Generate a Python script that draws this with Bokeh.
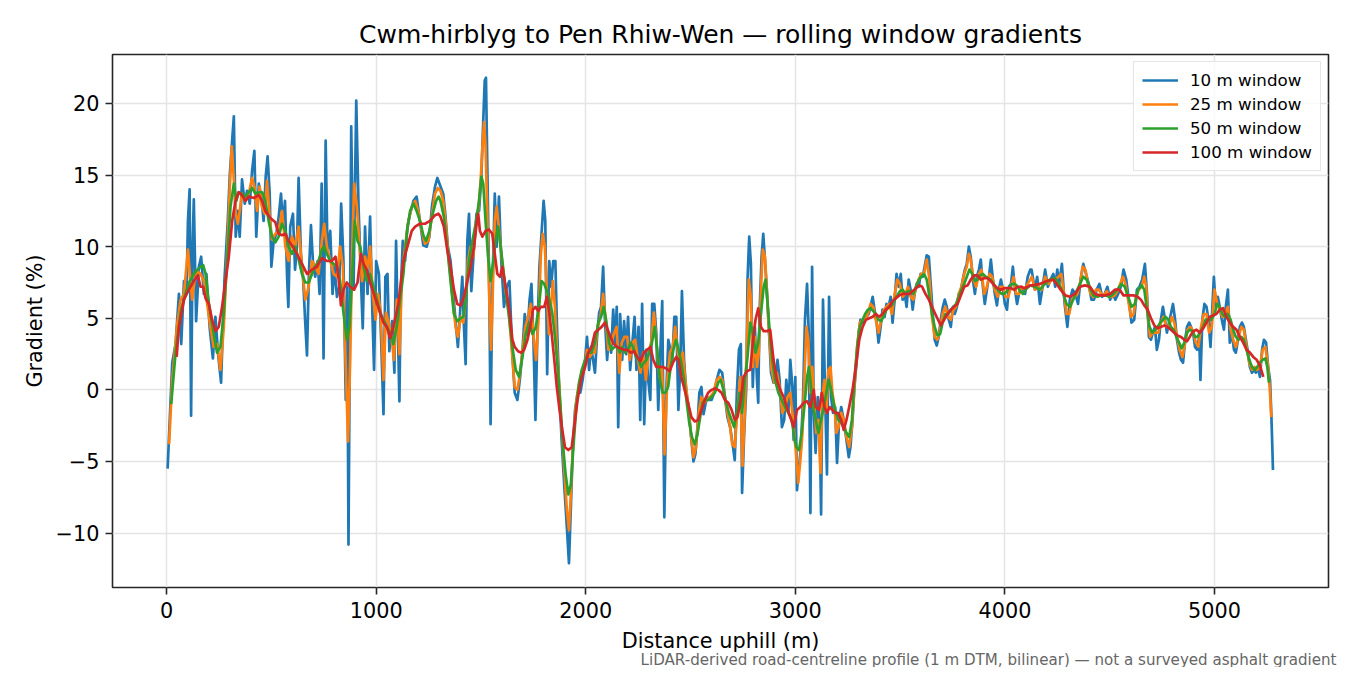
from bokeh.plotting import figure
from bokeh.models import FixedTicker, Title
from bokeh.embed import file_html
from bokeh.resources import INLINE

# (distance uphill m, gradient %)
win_10m = [
    (5, -5.5), (27, 1.9), (43, 3.2), (59, 6.7), (70, 3.2), (83, 7.6), (95, 6.7), (102, 11.8), (110, 14.0),
    (117, -1.8), (124, 10.0), (130, 13.3), (141, 4.8), (154, 8.6), (165, 9.3), (178, 6.7), (190, 8.1),
    (206, 4.3), (221, 2.2), (233, 5.1), (246, 2.5), (260, 0.5), (276, 7.6), (292, 11.8), (302, 15.1),
    (311, 17.0), (321, 19.1), (330, 10.7), (340, 12.5), (349, 10.7), (360, 14.7), (373, 13.0), (384, 13.9),
    (397, 13.0), (408, 15.3), (419, 16.7), (428, 10.7), (440, 14.4), (452, 13.5), (463, 11.8), (473, 14.9),
    (482, 16.3), (492, 13.7), (500, 8.6), (511, 10.4), (524, 10.9), (535, 12.1), (546, 13.7), (555, 11.4),
    (565, 13.2), (575, 7.9), (581, 5.8), (590, 11.4), (603, 12.3), (613, 8.4), (622, 10.0), (630, 14.8),
    (641, 9.5), (651, 7.9), (662, 4.6), (670, 2.4), (679, 8.1), (689, 11.5), (698, 9.0), (709, 7.9),
    (721, 9.0), (730, 6.7), (740, 14.4), (749, 2.2), (759, 17.4), (768, 9.5), (781, 11.1), (792, 6.7),
    (801, 8.6), (813, 6.5), (824, 7.2), (833, 13.0), (844, 9.0), (855, -0.7), (862, 7.2), (868, -10.8),
    (881, 18.4), (892, 7.0), (905, 20.2), (916, 12.8), (927, 7.9), (936, 4.3), (947, 11.4), (959, 6.7),
    (971, 12.1), (982, 5.4), (990, 1.4), (1000, 9.0), (1013, 8.1), (1024, 3.4), (1035, -1.7), (1044, 7.9),
    (1054, 8.1), (1063, 2.7), (1076, 4.8), (1087, 1.2), (1095, 10.4), (1105, 3.2), (1111, -0.8),
    (1117, 6.7), (1127, 10.4), (1138, 9.0), (1149, 11.4), (1162, 12.3), (1178, 13.2), (1193, 13.5),
    (1209, 11.8), (1225, 10.1), (1241, 10.0), (1254, 10.7), (1266, 12.8), (1281, 14.2), (1292, 14.8),
    (1307, 14.2), (1320, 13.7), (1331, 12.1), (1342, 10.0), (1355, 9.0), (1368, 6.7), (1379, 4.8),
    (1390, 3.0), (1400, 5.3), (1411, 7.9), (1419, 4.4), (1427, 1.8), (1435, 10.4), (1443, 12.3),
    (1454, 6.9), (1467, 10.0), (1479, 12.3), (1491, 12.5), (1502, 14.9), (1511, 18.8), (1518, 21.6),
    (1524, 21.8), (1530, 16.0), (1540, 6.7), (1546, -2.4), (1554, 6.7), (1566, 13.7), (1575, 10.0),
    (1586, 13.5), (1597, 9.0), (1610, 5.8), (1623, 7.2), (1636, 7.6), (1649, 2.7), (1661, -0.2),
    (1674, -0.7), (1687, 0.9), (1698, 2.7), (1709, 5.3), (1722, 3.9), (1732, 6.3), (1741, 7.4),
    (1751, 3.2), (1760, -2.1), (1770, 4.4), (1779, 8.6), (1789, 10.9), (1799, 13.2), (1807, 11.8),
    (1816, 1.1), (1826, 9.0), (1835, 7.2), (1845, 9.0), (1855, 9.0), (1862, 4.8), (1874, -0.2),
    (1885, -3.5), (1898, -6.8), (1910, -9.6), (1920, -12.1), (1929, -8.2), (1939, -3.8), (1949, -1.4),
    (1961, -0.2), (1974, -0.2), (1985, 0.7), (1997, 2.1), (2006, 3.7), (2016, 1.4), (2025, 3.0),
    (2035, 2.1), (2044, 1.2), (2054, 3.7), (2064, 5.4), (2073, 5.8), (2083, 8.6), (2092, 4.8),
    (2102, 2.1), (2111, 3.9), (2121, 2.6), (2131, 5.6), (2140, 3.2), (2148, 5.8), (2155, -2.6),
    (2164, 5.3), (2174, 2.1), (2183, 4.8), (2193, 2.5), (2202, 5.1), (2212, 1.4), (2222, 3.2),
    (2233, 5.1), (2242, 1.4), (2252, 4.4), (2260, -2.1), (2269, 6.0), (2279, -2.4), (2289, 2.8),
    (2298, 0.7), (2308, -0.7), (2317, 6.0), (2327, 6.0), (2337, 3.9), (2346, -1.4), (2356, 2.7),
    (2365, 6.2), (2375, -8.9), (2384, -0.2), (2394, 3.5), (2404, 2.8), (2413, 2.1), (2423, 5.1),
    (2432, 5.1), (2442, -1.4), (2451, 1.6), (2459, 6.9), (2469, 2.1), (2480, -0.2), (2491, -1.2),
    (2504, -3.5), (2514, -5.0), (2523, -4.5), (2533, -2.6), (2542, -0.2), (2552, 0.2), (2562, -1.7),
    (2571, -1.0), (2581, -0.5), (2590, -0.7), (2600, -0.7), (2613, -0.2), (2625, 0.7), (2638, 1.4),
    (2651, 1.2), (2664, -0.5), (2676, -1.9), (2689, -2.6), (2702, -3.9), (2711, -4.9), (2721, -0.2),
    (2731, 2.8), (2740, 3.2), (2746, -7.2), (2756, -3.0), (2766, 0.2), (2772, 7.7), (2780, 10.7),
    (2788, 8.8), (2797, 0.2), (2807, 4.4), (2817, 0.7), (2823, -0.9), (2829, 5.3), (2839, 9.3),
    (2847, 10.9), (2855, 9.1), (2864, 7.0), (2874, 4.2), (2884, 1.2), (2896, 0.5), (2906, 0.7),
    (2915, 2.1), (2925, 0.7), (2936, -2.6), (2947, -2.1), (2957, 0.7), (2967, -1.6), (2976, 2.1),
    (2986, 0.2), (2992, -3.5), (3000, 0.9), (3008, -7.0), (3016, -5.6), (3027, -4.0), (3037, -0.5),
    (3046, 4.9), (3056, 7.4), (3064, 4.0), (3072, -8.6), (3080, 8.6), (3088, -1.6), (3097, -4.4),
    (3107, -0.5), (3117, -3.0), (3123, -8.7), (3132, 6.3), (3142, -0.2), (3151, -5.9), (3161, 6.5),
    (3171, -0.5), (3180, -1.6), (3190, -1.2), (3199, -5.1), (3209, -2.1), (3219, -1.2), (3231, -2.1),
    (3244, -3.5), (3255, -4.7), (3263, -4.0), (3273, -2.1), (3282, 0.2), (3292, 1.9), (3302, 4.0),
    (3311, 4.9), (3321, 4.7), (3330, 4.9), (3340, 5.1), (3350, 5.3), (3359, 5.8), (3369, 6.5),
    (3378, 5.6), (3388, 4.7), (3397, 3.3), (3407, 4.4), (3416, 5.6), (3426, 5.1), (3435, 6.0),
    (3445, 5.8), (3455, 6.5), (3464, 4.7), (3474, 6.3), (3483, 8.1), (3493, 7.2), (3503, 8.1),
    (3512, 6.3), (3522, 6.7), (3531, 5.8), (3541, 7.7), (3550, 7.0), (3560, 5.6), (3569, 6.7),
    (3579, 7.4), (3589, 7.2), (3598, 8.1), (3608, 7.9), (3617, 8.6), (3627, 9.4), (3637, 9.3),
    (3646, 7.4), (3656, 5.3), (3665, 3.5), (3675, 3.1), (3684, 3.7), (3694, 4.9), (3704, 5.8),
    (3713, 6.3), (3723, 5.8), (3732, 4.9), (3742, 4.4), (3752, 5.8), (3761, 5.3), (3771, 5.8),
    (3780, 6.7), (3790, 7.0), (3799, 7.7), (3809, 8.4), (3818, 8.8), (3828, 10.0), (3837, 9.3),
    (3847, 7.7), (3857, 6.7), (3866, 7.9), (3876, 8.4), (3885, 9.1), (3895, 7.2), (3904, 6.0),
    (3914, 7.0), (3924, 7.9), (3933, 9.1), (3943, 7.7), (3952, 6.7), (3962, 5.9), (3971, 7.0),
    (3981, 7.7), (3991, 7.0), (4000, 6.0), (4010, 5.6), (4019, 7.2), (4029, 7.4), (4038, 8.6),
    (4048, 7.0), (4058, 6.0), (4067, 6.7), (4077, 7.2), (4086, 7.0), (4096, 6.7), (4109, 7.9),
    (4121, 8.4), (4127, 8.4), (4143, 7.0), (4154, 7.9), (4167, 6.0), (4180, 7.2), (4192, 8.4),
    (4205, 7.2), (4218, 7.7), (4231, 8.1), (4240, 7.2), (4250, 8.4), (4259, 7.4), (4272, 8.8),
    (4285, 6.0), (4298, 4.4), (4310, 6.3), (4323, 7.0), (4336, 6.7), (4349, 6.0), (4361, 7.7),
    (4374, 8.8), (4387, 8.1), (4400, 7.4), (4413, 6.3), (4425, 6.3), (4438, 7.0), (4451, 7.4),
    (4464, 6.5), (4476, 6.7), (4489, 7.2), (4502, 6.3), (4515, 6.7), (4527, 6.3), (4540, 6.7),
    (4553, 7.2), (4566, 8.4), (4579, 7.7), (4591, 6.3), (4604, 4.7), (4617, 4.9), (4630, 7.0),
    (4642, 7.2), (4655, 7.7), (4668, 8.8), (4678, 6.7), (4687, 3.7), (4697, 3.5), (4706, 4.0),
    (4716, 4.4), (4725, 2.8), (4735, 3.5), (4744, 4.9), (4754, 5.8), (4764, 4.9), (4773, 4.0),
    (4783, 4.7), (4792, 5.3), (4802, 6.0), (4812, 4.9), (4821, 3.5), (4831, 2.6), (4840, 2.1),
    (4850, 1.9), (4860, 3.5), (4869, 4.4), (4879, 4.7), (4888, 4.4), (4898, 4.0), (4907, 3.0),
    (4917, 2.8), (4927, 3.7), (4933, 0.7), (4942, 4.9), (4952, 6.0), (4962, 5.8), (4971, 4.9),
    (4981, 3.0), (4990, 5.8), (4997, 7.9), (5006, 5.8), (5016, 6.5), (5025, 5.8), (5035, 4.9),
    (5045, 4.2), (5054, 5.8), (5064, 7.0), (5073, 3.3), (5083, 4.0), (5093, 2.8), (5102, 2.6),
    (5112, 3.5), (5121, 4.4), (5131, 4.7), (5140, 4.4), (5150, 3.5), (5160, 2.6), (5169, 1.6),
    (5179, 1.2), (5188, 1.4), (5198, 1.2), (5207, 1.6), (5217, 0.9), (5227, 2.8), (5236, 3.5),
    (5246, 3.3), (5256, 1.6), (5265, 0.7), (5271, -1.6), (5276, -4.0), (5279, -5.6),
]

win_25m = [
    (12, -3.8), (27, 0.7), (51, 4.6), (67, 6.3), (83, 6.7), (102, 9.8), (111, 8.1), (122, 6.3), (133, 7.6),
    (146, 8.3), (162, 8.1), (178, 7.6), (194, 6.0), (209, 4.4), (225, 3.0), (241, 3.2), (257, 1.4),
    (273, 4.4), (289, 9.5), (302, 14.2), (311, 17.0), (321, 14.7), (330, 12.3), (340, 11.6), (349, 12.5),
    (360, 13.7), (376, 13.2), (392, 13.7), (408, 14.8), (419, 14.2), (432, 12.5), (444, 14.2), (455, 12.8),
    (468, 12.3), (479, 14.6), (492, 12.1), (503, 10.5), (519, 10.9), (535, 11.1), (551, 12.5), (567, 10.0),
    (582, 9.0), (598, 10.7), (614, 10.0), (630, 11.4), (646, 8.6), (662, 6.3), (678, 7.2), (694, 9.0),
    (709, 8.6), (725, 8.1), (741, 10.4), (752, 11.6), (765, 10.0), (781, 9.0), (797, 8.1), (813, 7.9),
    (828, 10.0), (841, 8.6), (854, 2.1), (866, -3.6), (876, 2.1), (886, 10.0), (895, 14.4), (908, 12.8),
    (921, 10.0), (933, 7.6), (947, 9.3), (959, 8.4), (971, 10.0), (984, 6.7), (997, 4.9), (1009, 6.7),
    (1022, 5.4), (1035, 0.7), (1047, 5.4), (1060, 4.7), (1073, 3.7), (1085, 2.1), (1098, 6.3),
    (1111, 2.5), (1124, 8.1), (1138, 10.0), (1154, 11.8), (1170, 12.8), (1186, 13.2), (1201, 12.5),
    (1217, 11.1), (1233, 10.2), (1249, 10.4), (1265, 12.1), (1281, 13.7), (1294, 14.1),
    (1307, 13.9), (1320, 13.2), (1331, 11.8), (1347, 9.0), (1363, 6.7), (1379, 4.4), (1390, 3.7),
    (1403, 5.1), (1416, 4.7), (1427, 6.3), (1438, 9.0), (1451, 10.0), (1463, 9.3), (1476, 11.4),
    (1489, 12.8), (1499, 14.7), (1508, 17.2), (1515, 18.7), (1522, 17.0), (1530, 12.5), (1540, 6.2),
    (1548, 2.8), (1556, 6.7), (1566, 11.8), (1575, 12.8), (1585, 11.4), (1594, 10.0), (1607, 8.1),
    (1620, 6.7), (1633, 5.4), (1649, 2.5), (1661, 0.2), (1674, 0.0), (1687, 1.2), (1700, 3.0),
    (1712, 4.4), (1725, 5.1), (1738, 6.0), (1751, 3.7), (1763, 2.1), (1776, 5.3), (1786, 9.5),
    (1795, 10.9), (1805, 10.0), (1815, 6.7), (1824, 3.9), (1834, 5.8), (1843, 7.6), (1853, 5.8),
    (1862, 3.0), (1874, 0.2), (1885, -2.6), (1898, -5.6), (1910, -8.4), (1920, -9.8), (1929, -7.3),
    (1939, -3.8), (1952, -1.2), (1965, 0.2), (1977, 0.9), (1993, 1.6), (2006, 2.8), (2019, 2.3),
    (2032, 2.6), (2044, 2.6), (2057, 4.4), (2070, 5.1), (2083, 6.7), (2096, 4.8), (2108, 2.8),
    (2121, 3.3), (2134, 3.9), (2147, 4.4), (2160, 1.2), (2172, 3.3), (2185, 3.7), (2198, 3.7),
    (2210, 2.1), (2223, 3.3), (2236, 3.5), (2249, 2.1), (2261, 1.2), (2274, 2.6), (2287, 0.7),
    (2300, 2.6), (2312, 3.3), (2325, 5.4), (2338, 3.3), (2351, 0.9), (2364, 1.6), (2376, -4.5),
    (2389, 0.7), (2402, 2.6), (2415, 3.0), (2427, 4.4), (2440, 2.6), (2453, 1.6), (2463, 2.6),
    (2475, 0.7), (2488, -0.9), (2501, -3.0), (2514, -4.7), (2526, -4.0), (2539, -1.6), (2552, -0.5),
    (2565, -0.9), (2578, -0.7), (2593, -0.5), (2609, -0.2), (2625, 0.7), (2638, 0.9), (2651, 0.7),
    (2664, -0.5), (2676, -1.6), (2689, -2.6), (2699, -3.8), (2711, -4.0), (2724, -1.4), (2737, 0.9),
    (2748, -5.3), (2759, -1.6), (2769, 3.5), (2778, 7.7), (2788, 6.5), (2797, 1.6), (2807, 3.7),
    (2817, 1.6), (2826, 2.6), (2836, 7.0), (2845, 9.8), (2855, 9.3), (2864, 7.0), (2874, 4.2),
    (2887, 1.4), (2900, 0.5), (2912, 1.2), (2925, 0.2), (2938, -1.6), (2951, -1.2), (2963, -0.5),
    (2976, -0.2), (2989, -2.1), (3002, -4.2), (3014, -6.5), (3024, -4.9), (3034, -3.0), (3043, 0.7),
    (3053, 4.4), (3062, 3.5), (3072, -0.2), (3081, 1.6), (3091, -1.2), (3100, -3.0), (3110, -2.1),
    (3120, -5.8), (3129, -0.5), (3139, 0.7), (3148, -1.6), (3158, 1.4), (3168, 1.6), (3177, -0.2),
    (3187, -1.2), (3196, -3.0), (3206, -2.6), (3219, -1.6), (3231, -2.1), (3244, -3.3), (3257, -4.0),
    (3270, -2.6), (3282, 0.2), (3295, 3.0), (3308, 4.7), (3321, 4.9), (3333, 4.9), (3346, 5.3),
    (3359, 6.0), (3372, 5.8), (3384, 4.9), (3397, 4.0), (3410, 4.9), (3423, 5.6), (3435, 5.8),
    (3448, 6.0), (3461, 5.3), (3474, 6.7), (3487, 7.7), (3499, 7.4), (3512, 6.5), (3525, 6.7),
    (3538, 7.2), (3550, 6.5), (3563, 6.3), (3576, 7.2), (3589, 7.7), (3601, 8.1), (3614, 8.1),
    (3627, 9.1), (3640, 7.7), (3652, 5.1), (3665, 3.7), (3678, 3.5), (3691, 4.2), (3703, 5.3),
    (3716, 5.8), (3729, 5.1), (3742, 4.9), (3755, 5.6), (3767, 5.8), (3780, 6.7), (3793, 7.2),
    (3806, 8.1), (3818, 8.6), (3828, 9.5), (3837, 9.1), (3850, 7.7), (3863, 7.2), (3876, 8.1),
    (3888, 8.4), (3901, 6.7), (3914, 7.2), (3927, 8.1), (3939, 7.9), (3952, 7.0), (3965, 6.5),
    (3978, 7.2), (3991, 7.2), (4003, 6.5), (4016, 6.5), (4029, 7.2), (4041, 7.9), (4054, 6.7),
    (4067, 6.7), (4080, 7.2), (4093, 7.0), (4109, 7.4), (4121, 7.7), (4128, 7.9), (4144, 7.0),
    (4160, 7.2), (4176, 7.0), (4192, 7.9), (4208, 7.4), (4224, 7.7), (4240, 7.7), (4256, 7.9),
    (4269, 8.1), (4282, 6.7), (4294, 5.3), (4307, 5.3), (4320, 6.3), (4333, 6.5), (4346, 6.7),
    (4358, 7.4), (4371, 8.6), (4384, 8.4), (4397, 7.4), (4409, 6.7), (4422, 6.5), (4435, 7.0),
    (4448, 7.0), (4460, 6.7), (4473, 6.6), (4486, 6.9), (4499, 6.5), (4511, 6.5), (4524, 6.6),
    (4537, 6.9), (4550, 7.4), (4563, 7.9), (4575, 7.4), (4588, 6.3), (4601, 5.1), (4614, 5.3),
    (4626, 6.5), (4639, 7.0), (4652, 7.2), (4665, 7.9), (4674, 7.2), (4684, 4.9), (4693, 3.7),
    (4706, 4.0), (4719, 4.0), (4732, 4.0), (4744, 4.7), (4757, 5.1), (4770, 4.4), (4783, 4.4),
    (4796, 5.1), (4808, 4.7), (4821, 3.7), (4834, 2.8), (4847, 2.3), (4860, 3.3), (4872, 4.2),
    (4885, 4.4), (4898, 4.1), (4911, 3.3), (4923, 3.0), (4936, 4.4), (4949, 5.3), (4962, 5.3),
    (4974, 4.0), (4987, 4.4), (5000, 7.0), (5013, 6.0), (5025, 5.6), (5038, 5.1), (5051, 5.3),
    (5064, 5.8), (5077, 4.2), (5089, 3.5), (5102, 3.0), (5115, 3.7), (5128, 4.4), (5140, 4.2),
    (5153, 3.0), (5166, 1.9), (5179, 1.4), (5191, 1.6), (5204, 1.4), (5217, 1.6), (5230, 2.8),
    (5243, 3.0), (5256, 1.6), (5265, -0.2), (5271, -1.9),
]

win_50m = [
    (22, -1.0), (43, 2.6), (67, 5.4), (90, 6.7), (111, 7.6), (130, 8.1), (154, 8.5), (175, 8.7), (186, 8.1),
    (202, 6.0), (225, 3.9), (241, 2.6), (257, 3.0), (273, 5.4), (289, 9.0), (305, 12.8), (321, 14.4),
    (333, 13.2), (344, 13.8), (360, 13.7), (376, 13.5), (392, 13.8), (408, 14.1), (424, 13.7), (440, 13.8),
    (456, 13.8), (471, 13.2), (487, 11.8), (503, 10.7), (519, 10.3), (535, 10.7), (551, 11.6), (567, 11.1),
    (582, 10.0), (598, 9.5), (614, 10.0), (630, 9.1), (646, 8.1), (662, 7.5), (678, 7.5), (694, 8.1),
    (709, 8.6), (725, 9.0), (741, 9.8), (752, 10.0), (765, 9.5), (781, 9.0), (797, 8.8), (813, 8.6),
    (828, 7.6), (844, 5.4), (860, 3.5), (873, 4.4), (886, 8.1), (898, 11.8), (911, 10.4), (924, 10.0),
    (940, 8.6), (955, 7.6), (971, 8.1), (987, 7.2), (1003, 6.3), (1019, 5.4), (1035, 4.9), (1051, 4.4),
    (1067, 4.0), (1082, 3.2), (1098, 4.4), (1114, 6.3), (1130, 8.1), (1146, 10.9), (1162, 12.5),
    (1178, 13.0), (1193, 12.5), (1209, 11.8), (1225, 10.8), (1238, 10.4), (1254, 11.1), (1270, 12.3),
    (1286, 13.2), (1298, 13.5),
    (1307, 13.2), (1323, 12.1), (1339, 10.0), (1355, 7.6), (1371, 5.3), (1387, 4.8), (1403, 5.0),
    (1416, 5.1), (1427, 6.3), (1443, 9.0), (1459, 10.4), (1475, 11.6), (1491, 13.2), (1502, 14.9),
    (1511, 14.4), (1522, 11.8), (1534, 9.3), (1546, 7.6), (1559, 9.0), (1570, 10.4), (1582, 11.4),
    (1594, 10.0), (1607, 8.4), (1620, 6.7), (1634, 5.1), (1650, 3.0), (1666, 1.4), (1682, 0.9),
    (1698, 2.3), (1714, 3.9), (1730, 4.7), (1746, 3.9), (1762, 4.4), (1778, 6.0), (1789, 7.6),
    (1802, 7.4), (1815, 6.9), (1827, 6.3), (1840, 5.4), (1853, 3.7), (1866, 1.6), (1878, -0.9),
    (1891, -3.8), (1904, -5.9), (1917, -7.3), (1929, -6.6), (1942, -3.8), (1955, -1.2), (1968, 0.5),
    (1981, 1.4), (1997, 2.1), (2012, 2.6), (2028, 2.6), (2044, 3.3), (2060, 4.7), (2073, 5.1),
    (2086, 5.8), (2099, 4.7), (2111, 3.3), (2124, 2.8), (2137, 3.0), (2150, 3.0), (2163, 2.6),
    (2175, 3.0), (2188, 2.6), (2201, 2.8), (2214, 3.3), (2226, 3.0), (2239, 2.3), (2252, 2.1),
    (2265, 1.6), (2277, 1.9), (2290, 2.1), (2303, 2.6), (2316, 3.3), (2329, 4.4), (2341, 2.8),
    (2354, 0.7), (2367, -0.2), (2380, -0.2), (2393, 0.2), (2405, 1.6), (2418, 2.8), (2431, 3.5),
    (2443, 2.8), (2456, 1.9), (2469, 0.7), (2482, -0.9), (2494, -2.3), (2507, -3.3), (2520, -3.8),
    (2533, -3.1), (2546, -1.9), (2558, -0.9), (2571, -0.7), (2584, -0.7), (2600, -0.5), (2616, -0.2),
    (2632, 0.5), (2644, 0.7), (2657, 0.0), (2670, -0.9), (2683, -1.6), (2696, -2.1), (2708, -2.6),
    (2721, -1.6), (2734, -0.2),
    (2746, -1.6), (2759, 0.7), (2772, 2.3), (2785, 4.7), (2797, 4.0), (2810, 2.6), (2823, 3.3),
    (2836, 5.3), (2849, 7.2), (2858, 7.7), (2868, 6.0), (2877, 4.2), (2890, 2.1), (2903, 0.7),
    (2919, -0.2), (2935, -0.7), (2951, -1.2), (2967, -1.6), (2983, -2.1), (2995, -3.3), (3005, -4.0),
    (3018, -4.2), (3030, -3.0), (3043, -1.2), (3056, 0.9), (3065, 1.6), (3075, 0.2), (3085, -1.2),
    (3097, -2.1), (3110, -3.0), (3123, -2.1), (3136, -1.2), (3148, -0.2), (3158, 0.7), (3168, 0.2),
    (3180, -0.7), (3193, -1.6), (3206, -2.1), (3219, -2.3), (3231, -2.6), (3244, -3.0), (3257, -3.3),
    (3270, -2.1), (3282, 0.7), (3295, 3.0), (3308, 4.4), (3321, 4.9), (3333, 5.3), (3346, 5.6),
    (3359, 5.7), (3372, 5.5), (3384, 5.3), (3397, 4.9), (3410, 4.8), (3423, 5.2), (3435, 5.6),
    (3448, 5.8), (3461, 5.9), (3474, 6.3), (3487, 6.6), (3499, 6.9), (3512, 7.0), (3525, 6.7),
    (3538, 6.9), (3550, 6.9), (3563, 6.7), (3576, 7.2), (3589, 7.7), (3601, 7.9), (3614, 8.1),
    (3627, 7.7), (3640, 6.5), (3652, 5.3), (3665, 4.4), (3678, 3.8), (3691, 3.9), (3703, 4.7),
    (3716, 5.3), (3729, 5.3), (3742, 5.6), (3755, 5.8), (3767, 6.0), (3780, 6.5), (3793, 7.0),
    (3806, 7.4), (3818, 7.9), (3831, 8.4), (3844, 8.1), (3857, 7.6), (3869, 7.7), (3882, 8.0),
    (3895, 8.1), (3908, 7.9), (3920, 7.8), (3933, 7.7), (3946, 7.4), (3959, 7.1), (3971, 6.9),
    (3984, 6.7), (3997, 6.7), (4010, 6.9), (4022, 7.2), (4035, 7.4), (4048, 7.4), (4061, 7.2),
    (4073, 6.9), (4086, 6.7), (4099, 7.0), (4112, 7.2), (4121, 7.3),
    (4143, 7.2), (4167, 7.0), (4191, 7.4), (4215, 7.7), (4239, 7.8), (4259, 7.4), (4279, 6.7),
    (4294, 6.0), (4310, 5.8), (4326, 6.3), (4342, 6.9), (4358, 7.4), (4374, 7.9), (4390, 7.7),
    (4406, 7.1), (4422, 6.6), (4441, 6.5), (4460, 6.6), (4480, 6.6), (4499, 6.5), (4518, 6.7),
    (4537, 7.0), (4556, 7.4), (4572, 7.2), (4588, 6.5), (4604, 5.8), (4620, 6.0), (4636, 7.0),
    (4652, 7.3), (4665, 7.0), (4678, 5.6), (4690, 4.4), (4703, 4.0), (4716, 4.2), (4729, 4.4),
    (4741, 4.7), (4754, 4.9), (4767, 5.1), (4780, 4.9), (4792, 4.4), (4805, 4.2), (4818, 3.7),
    (4831, 3.3), (4843, 2.9), (4856, 3.3), (4869, 4.0), (4882, 4.2), (4895, 4.1), (4907, 3.7),
    (4920, 3.7), (4933, 4.1), (4946, 4.4), (4958, 4.9), (4971, 4.9), (4984, 4.9), (5000, 5.3),
    (5013, 6.0), (5025, 5.8), (5038, 5.3), (5051, 5.1), (5064, 5.3), (5077, 4.9), (5089, 4.2),
    (5102, 3.7), (5115, 3.5), (5128, 3.7), (5140, 3.5), (5153, 2.8), (5166, 2.1), (5179, 1.6),
    (5191, 1.4), (5204, 1.6), (5217, 1.9), (5230, 2.1), (5243, 2.2), (5252, 1.6), (5260, 0.5),
]

win_100m = [
    (48, 2.3), (59, 4.4), (83, 6.3), (106, 7.0), (130, 7.6), (149, 8.0), (162, 7.2), (175, 7.2), (186, 6.4),
    (202, 6.0), (217, 4.9), (233, 4.1), (249, 4.4), (265, 5.8), (281, 7.6), (297, 9.3), (313, 11.8),
    (329, 13.2), (344, 13.8), (360, 13.6), (376, 13.2), (392, 13.5), (416, 13.4), (440, 13.6), (456, 13.2),
    (471, 12.5), (495, 12.0), (519, 11.7), (535, 10.9), (551, 10.8), (567, 10.9), (582, 10.4), (598, 10.1),
    (622, 9.5), (646, 8.8), (670, 8.1), (694, 8.4), (717, 8.6), (741, 9.2), (765, 9.0), (789, 9.0),
    (806, 9.3), (820, 7.9), (832, 5.9), (844, 7.0), (860, 7.5), (876, 7.2), (895, 7.0), (911, 7.5),
    (927, 9.5), (940, 8.8), (955, 8.4), (971, 7.5), (987, 6.8), (1003, 6.1), (1019, 5.4), (1035, 4.7),
    (1051, 4.4), (1067, 3.6), (1082, 4.4), (1106, 6.0), (1130, 9.0), (1149, 10.0), (1170, 11.1),
    (1186, 11.4), (1209, 11.6), (1233, 11.6), (1257, 11.8), (1281, 12.2), (1297, 12.3),
    (1307, 12.1), (1323, 11.4), (1339, 9.8), (1355, 8.6), (1371, 7.0), (1387, 6.0), (1403, 5.9),
    (1419, 6.5), (1435, 7.6), (1451, 8.6), (1467, 10.0), (1479, 11.6), (1487, 12.3), (1495, 11.1),
    (1507, 10.7), (1522, 11.1), (1538, 11.2), (1554, 10.9), (1566, 9.5), (1578, 8.1), (1591, 7.9),
    (1602, 8.6), (1613, 7.6), (1626, 6.5), (1639, 5.1), (1650, 3.5), (1661, 3.0), (1677, 2.7),
    (1693, 2.6), (1706, 2.8), (1722, 3.5), (1735, 4.4), (1748, 5.6), (1760, 5.8), (1773, 5.5),
    (1786, 5.8), (1802, 5.8), (1815, 6.5), (1824, 5.6), (1837, 4.0), (1850, 2.1), (1862, 0.2),
    (1875, -1.4), (1888, -2.8), (1901, -4.0), (1917, -4.2), (1933, -4.0), (1945, -2.6), (1961, -0.7),
    (1977, 0.7), (1997, 1.6), (2012, 2.6), (2028, 3.0), (2044, 4.0), (2060, 4.2), (2076, 4.4),
    (2092, 4.7), (2105, 4.2), (2118, 3.7), (2134, 3.2), (2150, 3.0), (2166, 2.9), (2182, 2.8),
    (2198, 2.8), (2214, 2.6), (2230, 2.7), (2246, 2.3), (2261, 2.0), (2277, 2.6), (2293, 2.8),
    (2309, 3.0), (2322, 2.1), (2337, 1.6), (2353, 1.6), (2368, 1.6), (2384, 1.5), (2400, 1.3),
    (2416, 1.9), (2432, 2.3), (2443, 2.1), (2456, 0.9), (2472, 0.0), (2488, -0.9), (2504, -1.9),
    (2520, -2.2), (2536, -2.1), (2552, -1.4), (2568, -0.7), (2584, -0.2), (2600, 0.0), (2616, 0.1),
    (2632, 0.0), (2648, -0.2), (2664, -0.7), (2680, -0.9), (2696, -1.4), (2711, -2.1), (2724, -1.9),
    (2740, -0.7),
    (2753, 0.9), (2769, 1.3), (2785, 1.4), (2797, 3.3), (2810, 4.9), (2823, 5.7), (2836, 4.4),
    (2849, 4.1), (2865, 4.1), (2880, 4.2), (2896, 2.1), (2912, 0.7), (2928, 0.0), (2944, -0.5),
    (2960, -1.2), (2976, -1.9), (2992, -2.6), (3008, -1.4), (3024, -1.2), (3040, -0.9), (3056, -0.8),
    (3072, -1.2), (3088, 0.0), (3097, -1.2), (3113, -1.4), (3126, -0.2), (3139, -1.2), (3151, -1.6),
    (3164, -1.2), (3177, -1.4), (3190, -1.6), (3203, -1.6), (3219, -2.1), (3231, -2.8), (3244, -2.1),
    (3257, -1.2), (3273, 0.0), (3289, 1.6), (3305, 3.5), (3321, 4.4), (3337, 4.9), (3353, 5.0),
    (3369, 5.1), (3384, 5.3), (3400, 5.1), (3416, 5.3), (3432, 5.6), (3448, 5.8), (3464, 6.2),
    (3480, 6.4), (3496, 6.6), (3512, 6.7), (3528, 6.7), (3544, 6.7), (3560, 6.9), (3576, 7.1),
    (3592, 7.3), (3605, 7.2), (3621, 6.7), (3637, 6.3), (3652, 5.8), (3668, 5.3), (3681, 4.9),
    (3694, 4.5), (3710, 4.9), (3726, 5.3), (3742, 5.6), (3758, 5.8), (3774, 6.0), (3790, 6.6),
    (3806, 7.2), (3822, 7.3), (3837, 7.7), (3853, 8.0), (3869, 8.0), (3885, 7.7), (3901, 7.8),
    (3917, 7.8), (3933, 7.6), (3949, 7.3), (3965, 7.1), (3981, 7.0), (3997, 7.1), (4013, 7.1),
    (4029, 7.1), (4045, 7.0), (4061, 7.2), (4077, 7.2), (4093, 7.1), (4109, 7.2), (4121, 7.3),
    (4135, 7.3), (4167, 7.4), (4199, 7.6), (4231, 7.7), (4247, 7.4), (4266, 7.0), (4288, 6.6),
    (4310, 6.5), (4334, 6.7), (4358, 7.2), (4382, 7.3), (4406, 7.2), (4430, 6.7), (4454, 6.6),
    (4478, 6.6), (4502, 6.7), (4526, 7.0), (4547, 7.0), (4566, 6.6), (4590, 6.6), (4614, 6.6),
    (4633, 6.5), (4649, 6.3), (4665, 5.9), (4681, 5.6), (4697, 5.0), (4713, 4.5), (4729, 4.3),
    (4745, 4.4), (4761, 4.5), (4776, 4.4), (4792, 4.2), (4808, 4.0), (4824, 3.8), (4840, 3.7),
    (4856, 3.5), (4869, 3.4), (4882, 3.7), (4898, 4.1), (4914, 4.2), (4930, 4.0), (4946, 4.3),
    (4962, 4.7), (4978, 5.1), (4993, 5.2), (5009, 5.3), (5025, 5.6), (5041, 5.7), (5057, 5.1),
    (5073, 4.7), (5089, 4.4), (5105, 4.2), (5121, 3.7), (5137, 3.3), (5153, 2.8), (5169, 2.6),
    (5185, 2.3), (5201, 2.1), (5217, 1.7), (5233, 0.9),
]

series = [
    ("10 m window", win_10m, "#1f77b4"),
    ("25 m window", win_25m, "#ff7f0e"),
    ("50 m window", win_50m, "#2ca02c"),
    ("100 m window", win_100m, "#d62728"),
]

FONT = "DejaVu Sans"
INK = "#262626"

p = figure(frame_width=1216, frame_height=533,
           x_range=(-258, 5544), y_range=(-13.8, 23.42),
           min_border_left=112, min_border_right=14,
           min_border_top=54, min_border_bottom=80,
           output_backend="svg", toolbar_location=None,
           title="Cwm-hirblyg to Pen Rhiw-Wen \u2014 rolling window gradients")

p.title.text_font = FONT
p.title.text_font_size = "25px"
p.title.text_font_style = "normal"
p.title.text_color = "black"
p.title.align = "center"
p.title.standoff = 11

for name, pts, color in series:
    xs = [d for d, g in pts]
    ys = [g for d, g in pts]
    p.line(xs, ys, line_color=color, line_width=2.7, line_join="round",
           legend_label=name)

p.xaxis.ticker = FixedTicker(ticks=[0, 1000, 2000, 3000, 4000, 5000])
p.yaxis.ticker = FixedTicker(ticks=[-10, -5, 0, 5, 10, 15, 20])
p.yaxis.major_label_overrides = {-10: "\u221210", -5: "\u22125"}
p.xaxis.axis_label = "Distance uphill (m)"
p.yaxis.axis_label = "Gradient (%)"

for ax in p.axis:
    ax.axis_line_color = None
    ax.major_tick_out = 7
    ax.major_tick_in = 0
    ax.minor_tick_out = 0
    ax.minor_tick_in = 0
    ax.major_tick_line_color = INK
    ax.major_tick_line_width = 1.6
    ax.major_label_text_font = FONT
    ax.major_label_text_font_size = "20.8px"
    ax.major_label_text_color = "black"
    ax.axis_label_text_font = FONT
    ax.axis_label_text_font_size = "20.8px"
    ax.axis_label_text_font_style = "normal"
    ax.axis_label_text_color = "black"
p.xaxis.major_label_standoff = 7
p.xaxis.axis_label_standoff = 8
p.yaxis.major_label_standoff = 6
p.yaxis.axis_label_standoff = 6

p.grid.grid_line_color = "#e4e4e4"
p.grid.grid_line_width = 1.5
p.outline_line_color = INK
p.outline_line_width = 1.6
p.outline_line_alpha = 1.0

p.legend.location = "top_right"
p.legend.label_text_font = FONT
p.legend.label_text_font_size = "16.7px"
p.legend.label_text_color = "black"
p.legend.glyph_width = 36
p.legend.label_standoff = 12
p.legend.spacing = 4
p.legend.padding = 8
p.legend.margin = 7
p.legend.border_line_color = "#cccccc"
p.legend.border_line_width = 1.5
p.legend.background_fill_alpha = 0.8

note = Title(text="LiDAR-derived road-centreline profile (1 m DTM, bilinear) \u2014 not a surveyed asphalt gradient",
             align="right", vertical_align="bottom", offset=-8, standoff=-14,
             text_font=FONT, text_font_size="15.1px", text_font_style="normal",
             text_color="#666666")
p.add_layout(note, "below")

open("out.html", "w").write(file_html(p, INLINE))
